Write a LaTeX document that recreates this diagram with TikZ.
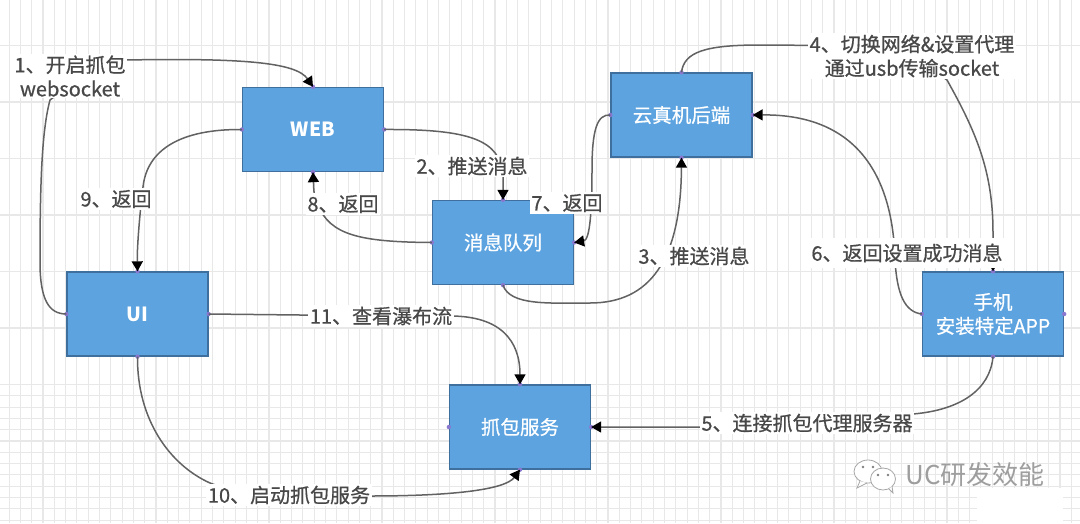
\documentclass[tikz,border=0pt]{standalone}
\usepackage{fontspec}
\setmainfont{Noto Sans CJK SC}
\newfontfamily\heavyfont[FakeBold=0.7]{Noto Sans CJK SC}
\usetikzlibrary{arrows.meta}
\definecolor{boxfill}{HTML}{5CA3E0}
\definecolor{boxedge}{HTML}{3F6F9C}
\definecolor{wire}{HTML}{626262}
\definecolor{inktext}{HTML}{484848}
\definecolor{port}{HTML}{8A78D0}
\tikzset{
  stage/.style={draw=boxedge,fill=boxfill,line width=1.3pt,minimum width=141pt,minimum height=84pt,
    inner sep=0pt,text=white,align=center,font=\heavyfont\fontsize{19.5}{24}\selectfont},
  flow/.style={draw=wire,line width=1.5pt,-{Triangle[length=10pt,width=11pt,color=black]}},
  caption/.style={fill=white,text=inktext,inner sep=1.5pt,align=center,font=\heavyfont\fontsize{20}{24}\selectfont},
  bubble/.style={draw=gray!70,fill=white,line width=.8pt},
  eye/.style={fill=gray,draw=none}
}
\begin{document}
\begin{tikzpicture}[x=1pt,y=-1pt]
\useasboundingbox (0,0) rectangle (1080,523);
\fill[white] (0,0) rectangle (1080,523);

% squared paper: fine lines, then every fifth line a little heavier
\foreach \k in {-3,...,95}
  \draw[black!9,line width=1pt] ({43+11.3*\k},0) -- ({43+11.3*\k},523);
\foreach \k in {-5,...,46}
  \draw[black!9,line width=1pt] (0,{441+11.3*\k}) -- (1080,{441+11.3*\k});
\foreach \k in {0,...,19}
  \draw[black!9,line width=1.6pt] ({43+56.5*\k-0},0) -- ({43+56.5*\k},523);
\foreach \k in {-8,...,1}
  \draw[black!9,line width=1.6pt] (0,{441+56.5*\k}) -- (1080,{441+56.5*\k});
\fill[white] (977,488) rectangle (1063,523);

% stages
\node[stage] (web)     at (313,129.5) {\rmfamily\bfseries WEB};
\node[stage] (cloud)   at (681.5,115) {云真机后端};
\node[stage] (queue)   at (503,242.5) {消息队列};
\node[stage] (ui)      at (137.5,314) {\rmfamily\bfseries UI};
\node[stage] (app)     at (993,314)   {手机\\安装特定APP};
\node[stage] (capture) at (520,427)   {抓包服务};

% connection ports on each side of the stages
\foreach \n in {web,cloud,queue,ui,app,capture}
  \foreach \a in {north,south,east,west}
    \fill[port] (\n.\a) circle (2.2pt);

% connectors
\draw[flow] (ui.west) .. controls (49,314) and (40,300) .. (40,262)
  .. controls (40,180) and (42,130) .. (50,100) -- (100,62)
  -- (125,60) .. controls (240,58) and (296,62) .. (web.north);
\draw[flow] (web.east) .. controls (470,129) and (500,140) .. (503,175) -- (queue.north);
\draw[flow] (queue.south) .. controls (510,306) and (550,303) .. (590,303)
  .. controls (650,303) and (681,260) .. (cloud.south);
\draw[flow] (cloud.north) .. controls (684,52) and (705,45) .. (760,45)
  -- (900,46) -- (947,80) .. controls (975,130) and (993,170) .. (993,232) -- (app.north);
\draw[flow] (app.south) .. controls (990,390) and (960,410) .. (913,414)
  .. controls (850,420) and (760,427) .. (700,427) -- (capture.east);
\draw[flow] (app.west) .. controls (905,312) and (897,295) .. (895,260)
  .. controls (893,180) and (860,114) .. (cloud.east);
\draw[flow] (cloud.west) .. controls (597,114) and (592,130) .. (592,170)
  .. controls (592,210) and (590,240) .. (queue.east);
\draw[flow] (queue.west) .. controls (360,242) and (330,235) .. (318,205)
  .. controls (314,195) .. (web.south);
\draw[flow] (web.west) .. controls (180,129) and (147,150) .. (143,187)
  .. controls (139,220) and (137,250) .. (ui.north);
\draw[flow] (ui.south) .. controls (137,420) and (170,465) .. (210,483)
  .. controls (240,495) and (300,496) .. (370,496)
  .. controls (450,496) and (505,490) .. (capture.south);
\draw[flow] (ui.east) -- (300,315) -- (450,316) .. controls (500,316) and (520,340) .. (capture.north);

% step captions
\node[caption] (c1)  at (70,76)    {1、开启抓包\\websocket};
\node[caption] (c2)  at (472,166)  {2、推送消息};
\node[caption] (c3)  at (694,256)  {3、推送消息};
\node[caption] (c4)  at (912,56)   {4、切换网络\&设置代理\\通过usb传输socket};
\node[caption] (c5)  at (807,423)  {5、连接抓包代理服务器};
\node[caption,minimum height=30pt] (c6)  at (907,253)  {6、返回设置成功消息};
\node[caption] (c7)  at (567,203)  {7、返回};
\node[caption] (c8)  at (343,204)  {8、返回};
\node[caption] (c9)  at (116,199)  {9、返回};
\node[caption] (c10) at (289,495)  {10、启动抓包服务};
\node[caption] (c11) at (381,316)  {11、查看瀑布流};

% chat badge and account name in the lower right corner
\draw[bubble] (868,471.5) ellipse (14pt and 11.5pt);
\draw[bubble] (860,481) -- (857,488) -- (867,483);
\fill[eye] (863,467) circle (1.4pt) (873,467) circle (1.4pt);
\draw[bubble] (883,479) ellipse (12.5pt and 11pt);
\draw[bubble] (889,489) -- (893,493) -- (892,486);
\fill[eye] (878,475) circle (1.3pt) (888,475) circle (1.3pt);
\node[text=black!38,inner sep=0pt,font=\fontsize{26}{30}\selectfont] (mark) at (975,475) {UC研发效能};
\end{tikzpicture}
\end{document}
